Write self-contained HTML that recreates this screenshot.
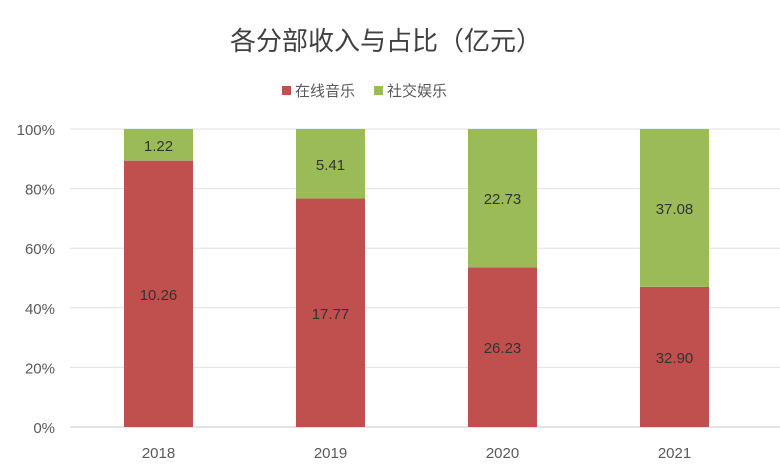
<!DOCTYPE html>
<html><head><meta charset="utf-8">
<style>
html,body{margin:0;padding:0;background:#fff;}
svg{display:block;font-family:"Liberation Sans","Noto Sans CJK SC",sans-serif;}
</style></head>
<body>
<svg id="chart" width="780" height="472" viewBox="0 0 780 472">
  <text x="386" y="50" text-anchor="middle" font-size="26" fill="#404040">各分部收入与占比（亿元）</text>
  <g>
    <rect x="282" y="86" width="9" height="9" fill="#c0504d"></rect>
    <text x="295" y="96" font-size="15" fill="#595959">在线音乐</text>
    <rect x="374" y="86" width="9" height="9" fill="#9bbb59"></rect>
    <text x="387" y="96" font-size="15" fill="#595959">社交娱乐</text>
  </g>
  <g id="grid"></g>
  <g id="bars"></g>
  <g id="labels"></g>
</svg>
<script>
const categories = ["2018","2019","2020","2021"];
const musicValues = [10.26,17.77,26.23,32.90];
const socialValues = [1.22,5.41,22.73,37.08];
const tickLabels = ["0%","20%","40%","60%","80%","100%"];

const NS="http://www.w3.org/2000/svg";
const y0=427, y1=129, plotL=70, plotR=780;
function yScale(f){return y0-(y0-y1)*f;}
function xCenter(i){return 158.5+172*i;}
const barW=69;
function mk(tag,attrs,parent){const e=document.createElementNS(NS,tag);for(const k in attrs)e.setAttribute(k,attrs[k]);parent.appendChild(e);return e;}
const grid=document.getElementById('grid'),bars=document.getElementById('bars'),labels=document.getElementById('labels');
tickLabels.forEach((t,i)=>{
  const y=yScale(i/(tickLabels.length-1));
  const l=mk('line',{x1:plotL,x2:plotR,y1:y,y2:y,stroke:i===0?'#c8c8c8':'#e0e0e0','stroke-width':1},grid);
  
  
  const tx=mk('text',{x:55,y:y+6,'text-anchor':'end','font-size':15,fill:'#595959'},grid);
  tx.textContent=t;
  
  
});
categories.forEach((c,i)=>{
  const tot=musicValues[i]+socialValues[i];
  const fm=musicValues[i]/tot;
  const cx=xCenter(i);
  const ym=yScale(fm);
  const r=mk('rect',{x:cx-barW/2,y:ym,width:barW,height:y0-ym,fill:'#c0504d'},bars);
  
  
  const g=mk('rect',{x:cx-barW/2,y:y1,width:barW,height:ym-y1,fill:'#9bbb59'},bars);
  
  
  const lm=mk('text',{x:cx,y:(ym+y0)/2+6,'text-anchor':'middle','font-size':15,fill:'#333'},labels);
  lm.textContent=musicValues[i].toFixed(2);
  
  
  const ls=mk('text',{x:cx,y:(ym+y1)/2+6,'text-anchor':'middle','font-size':15,fill:'#333'},labels);
  ls.textContent=socialValues[i].toFixed(2);
  
  
  const xl=mk('text',{x:cx,y:458,'text-anchor':'middle','font-size':15,fill:'#595959'},labels);
  xl.textContent=c;
  
  
});
</script>
</body></html>
